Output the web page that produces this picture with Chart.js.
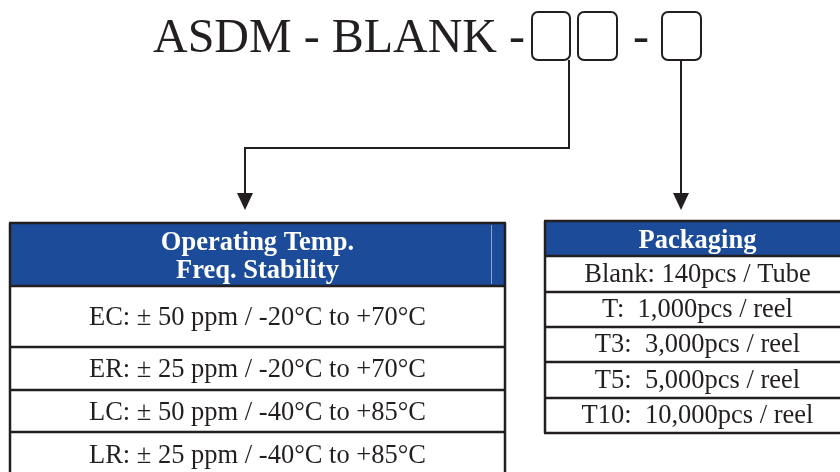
<!DOCTYPE html>
<html>
<head>
<meta charset="utf-8">
<title>ASDM part numbering</title>
<script src="https://cdn.jsdelivr.net/npm/chart.js@4.4.0/dist/chart.umd.min.js"></script>
<style>
  html, body { margin: 0; padding: 0; background: #fff; }
  .wrap { position: relative; width: 840px; height: 472px; }
</style>
</head>
<body>
<div class="wrap"><canvas id="partChart"></canvas></div>
<script>
// texts of the diagram
const partPrefix = 'ASDM - BLANK -';
const partSeparator = '-';
const tempHeader = ['Operating Temp.', 'Freq. Stability'];
const tempRows = [
  'EC: \u00b1 50 ppm / -20\u00b0C to +70\u00b0C',
  'ER: \u00b1 25 ppm / -20\u00b0C to +70\u00b0C',
  'LC: \u00b1 50 ppm / -40\u00b0C to +85\u00b0C',
  'LR: \u00b1 25 ppm / -40\u00b0C to +85\u00b0C'
];
const packHeader = ['Packaging'];
const packRows = [
  'Blank: 140pcs / Tube',
  'T:  1,000pcs / reel',
  'T3:  3,000pcs / reel',
  'T5:  5,000pcs / reel',
  'T10:  10,000pcs / reel'
];

// geometry in picture units (mapped through the chart scales)
const layout = {
  title: { x: 153, y: 52, size: 48 },
  sep: { x: 641, y: 52 },
  boxes: [[532, 570], [578, 617], [662, 701]],
  boxTop: 12, boxBottom: 60,
  tempTable: { left: 10, right: 505, top: 223, headBottom: 286, rowLines: [347, 390, 432, 476], divider: 491, textShift: 2 },
  packTable: { left: 545, right: 850, top: 221, headBottom: 256, rowLines: [292, 327, 362, 398, 433], textShift: 1 },
  leftArrow: [[569, 60], [569, 148], [245, 148], [245, 196]],
  rightArrow: [[681, 60], [681, 196]],
  arrowTipY: 210
};

const ink = '#231f20';
const headBlue = '#1c4b9a';
const serif = '"Liberation Serif", "Times New Roman", serif';

const diagram = {
  id: 'diagram',
  afterDraw(chart) {
    const ctx = chart.ctx;
    const sx = v => chart.scales.x.getPixelForValue(v);
    const sy = v => chart.scales.y.getPixelForValue(v);
    ctx.save();

    // title line
    ctx.fillStyle = ink;
    ctx.font = layout.title.size + 'px ' + serif;
    ctx.textBaseline = 'alphabetic';
    ctx.textAlign = 'left';
    ctx.fillText(partPrefix, sx(layout.title.x), sy(layout.title.y));
    ctx.textAlign = 'center';
    ctx.fillText(partSeparator, sx(layout.sep.x), sy(layout.sep.y));

    // empty code boxes
    ctx.strokeStyle = ink;
    ctx.lineWidth = 2;
    layout.boxes.forEach(b => {
      ctx.beginPath();
      ctx.roundRect(sx(b[0]), sy(layout.boxTop), sx(b[1]) - sx(b[0]), sy(layout.boxBottom) - sy(layout.boxTop), 6);
      ctx.stroke();
    });

    // connectors with arrow heads
    [layout.leftArrow, layout.rightArrow].forEach(path => {
      ctx.beginPath();
      path.forEach((p, i) => i ? ctx.lineTo(sx(p[0]), sy(p[1])) : ctx.moveTo(sx(p[0]), sy(p[1])));
      ctx.stroke();
      const end = path[path.length - 1];
      ctx.beginPath();
      ctx.moveTo(sx(end[0] - 8), sy(end[1] - 3));
      ctx.lineTo(sx(end[0] + 8), sy(end[1] - 3));
      ctx.lineTo(sx(end[0]), sy(layout.arrowTipY));
      ctx.closePath();
      ctx.fillStyle = ink;
      ctx.fill();
    });

    // tables
    function drawTable(t, header, rows) {
      const l = sx(t.left), r = sx(t.right);
      ctx.fillStyle = headBlue;
      ctx.fillRect(l, sy(t.top), r - l, sy(t.headBottom) - sy(t.top));
      if (t.divider) {
        ctx.strokeStyle = '#8ea3cc';
        ctx.lineWidth = 1;
        ctx.beginPath();
        ctx.moveTo(sx(t.divider) + 0.5, sy(t.top) + 2);
        ctx.lineTo(sx(t.divider) + 0.5, sy(t.headBottom) - 2);
        ctx.stroke();
      }
      ctx.strokeStyle = ink;
      ctx.lineWidth = 2.5;
      const lines = [t.top, t.headBottom].concat(t.rowLines);
      const bottom = lines[lines.length - 1];
      lines.forEach(y => {
        ctx.beginPath();
        ctx.moveTo(l - 1, sy(y));
        ctx.lineTo(r + 1, sy(y));
        ctx.stroke();
      });
      ctx.beginPath();
      ctx.moveTo(l, sy(t.top)); ctx.lineTo(l, sy(bottom));
      ctx.moveTo(r, sy(t.top)); ctx.lineTo(r, sy(bottom));
      ctx.stroke();

      const cx = (l + r) / 2;
      ctx.textAlign = 'center';
      ctx.textBaseline = 'middle';
      ctx.fillStyle = '#ffffff';
      ctx.font = 'bold 26.5px ' + serif;
      const hMid = (sy(t.top) + sy(t.headBottom)) / 2;
      const lh = 28;
      header.forEach((h, i) => {
        ctx.fillText(h, cx, hMid + (i - (header.length - 1) / 2) * lh + 3);
      });
      ctx.fillStyle = ink;
      ctx.font = '26.5px ' + serif;
      let prev = t.headBottom;
      rows.forEach((txt, i) => {
        const next = t.rowLines[i];
        ctx.fillText(txt, cx, (sy(prev) + sy(next)) / 2 + t.textShift);
        prev = next;
      });
    }
    drawTable(layout.tempTable, tempHeader, tempRows);
    drawTable(layout.packTable, packHeader, packRows);

    ctx.restore();
  }
};

new Chart(document.getElementById('partChart'), {
  type: 'scatter',
  data: { datasets: [] },
  options: {
    responsive: true,
    maintainAspectRatio: false,
    animation: false,
    layout: { padding: 0 },
    plugins: { legend: { display: false }, tooltip: { enabled: false } },
    scales: {
      x: { type: 'linear', min: 0, max: 840, display: false },
      y: { type: 'linear', min: 0, max: 472, reverse: true, display: false }
    }
  },
  plugins: [diagram]
});
</script>
</body>
</html>
